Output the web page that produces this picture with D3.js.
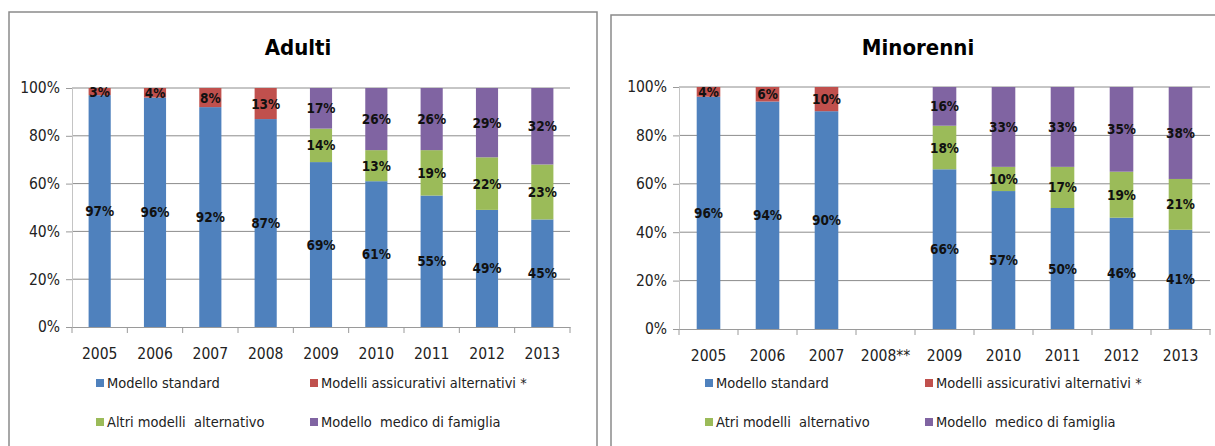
<!DOCTYPE html>
<meta charset="utf-8">
<head>
  <title>Adulti / Minorenni</title>
</head>
<style>
body { margin: 0; background: #fff; }
svg text { font-family: "Liberation Sans Narrow", "DejaVu Sans Condensed", sans-serif; white-space: pre; }
.tick text { font-size: 15.5px; fill: #222; }
.lbl { font-size: 13.5px; font-weight: bold; fill: #111; }
.ttl { font-size: 22px; font-weight: bold; fill: #000; }
.leg { font-size: 14.5px; fill: #222; }
</style>
<body>
<svg width="1215" height="446"></svg>
<script src="https://cdn.jsdelivr.net/npm/d3@7"></script>
<script>
var years = ['2005', '2006', '2007', '2008', '2009', '2010', '2011', '2012', '2013'];
var yearsMin = ['2005', '2006', '2007', '2008**', '2009', '2010', '2011', '2012', '2013'];
var yTicks = [0, 0.2, 0.4, 0.6, 0.8, 1];

// Adulti
var adStandard = [97, 96, 92, 87, 69, 61, 55, 49, 45];
var adAssic = [3, 4, 8, 13, 0, 0, 0, 0, 0];
var adAltri = [0, 0, 0, 0, 14, 13, 19, 22, 23];
var adMedico = [0, 0, 0, 0, 17, 26, 26, 29, 32];

// Minorenni (2008 not available)
var miStandard = [96, 94, 90, 0, 66, 57, 50, 46, 41];
var miAssic = [4, 6, 10, 0, 0, 0, 0, 0, 0];
var miAltri = [0, 0, 0, 0, 18, 10, 17, 19, 21];
var miMedico = [0, 0, 0, 0, 16, 33, 33, 35, 38];

var seriesColors = ['#4F81BD', '#C0504D', '#9BBB59', '#8064A2'];
var legendAd = ['Modello standard', 'Modelli assicurativi alternativi *', 'Altri modelli  alternativo', 'Modello  medico di famiglia'];
var legendMi = ['Modello standard', 'Modelli assicurativi alternativi *', 'Atri modelli  alternativo', 'Modello  medico di famiglia'];

var svg = d3.select('svg');

function drawPanel(p) {
  var g = svg.append('g');

  g.append('rect')
    .attr('x', p.box[0]).attr('y', p.box[1])
    .attr('width', p.box[2]).attr('height', p.box[3])
    .attr('fill', '#fff').attr('stroke', '#8a8a8a').attr('stroke-width', 1.5);

  g.append('text').attr('class', 'ttl')
    .attr('x', p.titleX).attr('y', 55)
    .attr('text-anchor', 'middle')
    .text(p.title);

  var x = d3.scaleBand().domain(p.cats).range([p.x0, p.x1]).paddingInner(0.6).paddingOuter(0.3);
  var xb = d3.scaleBand().domain(p.cats).range([p.x0, p.x1]);
  var y = d3.scaleLinear().domain([0, 1]).range([p.y0, p.y1]);

  // gridlines
  g.append('g').selectAll('line').data(yTicks.slice(1)).enter().append('line')
    .attr('x1', p.x0).attr('x2', p.x1)
    .attr('y1', function(d) { return y(d); }).attr('y2', function(d) { return y(d); })
    .attr('stroke', '#8c8c8c').attr('stroke-width', 1);

  // y axis
  var ya = g.append('g').attr('transform', 'translate(' + p.x0 + ',0)')
    .call(d3.axisLeft(y).tickValues(yTicks).tickFormat(d3.format('.0%')).tickSize(6).tickPadding(6));
  ya.select('.domain').attr('stroke', '#c4c4c4');
  ya.selectAll('.tick line').attr('stroke', '#9a9a9a');

  // stacked bars
  var rows = p.cats.map(function(c, i) {
    return { cat: c, s0: p.series[0][i], s1: p.series[1][i], s2: p.series[2][i], s3: p.series[3][i] };
  });
  var stack = d3.stack().keys(['s0', 's1', 's2', 's3'])(rows);

  var layers = g.append('g').selectAll('g').data(stack).enter().append('g')
    .attr('fill', function(d, i) { return seriesColors[i]; });

  layers.selectAll('rect').data(function(d) { return d; }).enter().append('rect')
    .filter(function(d) { return d[1] - d[0] > 0; })
    .attr('x', function(d) { return x(d.data.cat); })
    .attr('width', x.bandwidth())
    .attr('y', function(d) { return y(d[1] / 100); })
    .attr('height', function(d) { return y(d[0] / 100) - y(d[1] / 100); });

  layers.selectAll('text').data(function(d) { return d; }).enter().append('text')
    .filter(function(d) { return d[1] - d[0] > 0; })
    .attr('class', 'lbl')
    .attr('text-anchor', 'middle')
    .attr('x', function(d) { return x(d.data.cat) + x.bandwidth() / 2; })
    .attr('y', function(d) { return y((d[0] + d[1]) / 200) + 5; })
    .text(function(d) { return (d[1] - d[0]) + '%'; });

  // x axis
  var xa = g.append('g').attr('transform', 'translate(0,' + p.y0 + ')')
    .call(d3.axisBottom(xb).tickSize(0).tickPadding(21));
  xa.select('.domain').attr('stroke', '#9a9a9a');
  g.append('g').selectAll('line').data(d3.range(p.cats.length + 1)).enter().append('line')
    .attr('x1', function(i) { return p.x0 + i * xb.step(); })
    .attr('x2', function(i) { return p.x0 + i * xb.step(); })
    .attr('y1', p.y0).attr('y2', p.y0 + 6)
    .attr('stroke', '#9a9a9a');

  // legend
  var leg = g.append('g').selectAll('g').data(p.legend).enter().append('g')
    .attr('transform', function(d, i) {
      return 'translate(' + p.legX[i % 2] + ',' + p.legY[Math.floor(i / 2)] + ')';
    });
  leg.append('rect').attr('x', 0).attr('y', -9).attr('width', 8).attr('height', 8)
    .attr('fill', function(d, i) { return seriesColors[i]; });
  leg.append('text').attr('class', 'leg').attr('x', 11).attr('y', 0)
    .text(function(d) { return d; });
}

drawPanel({
  box: [9, 12, 588, 450], title: 'Adulti', titleX: 298,
  cats: years, series: [adStandard, adAssic, adAltri, adMedico],
  x0: 72, x1: 570, y0: 327, y1: 88,
  legend: legendAd, legX: [96, 310], legY: [388, 427]
});

drawPanel({
  box: [611, 15, 620, 450], title: 'Minorenni', titleX: 918,
  cats: yearsMin, series: [miStandard, miAssic, miAltri, miMedico],
  x0: 679, x1: 1210, y0: 329, y1: 87,
  legend: legendMi, legX: [705, 925], legY: [388, 427]
});
</script>
</body>
</html>
